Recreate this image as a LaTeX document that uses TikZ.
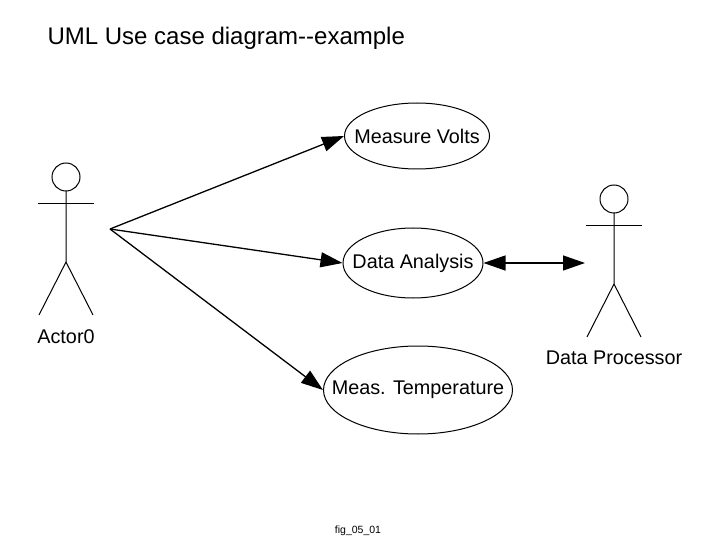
\documentclass[tikz,border=0pt]{standalone}
\usepackage{fontspec}
\setmainfont{Liberation Sans}
\usetikzlibrary{arrows.meta,shapes.geometric}
\begin{document}
\begin{tikzpicture}[x=1pt,y=-1pt,
	usecase/.style={draw,ellipse,line width=1pt,inner sep=0pt,font=\fontsize{19.8}{24}\selectfont},
	assoc/.style={line width=1.3pt,-{Triangle[length=22pt,width=15pt]}},
	actorline/.style={line width=1pt},
	label/.style={font=\fontsize{19.8}{24}\selectfont}]
	\useasboundingbox (0,0) rectangle (720,540);
	\node[anchor=west,font=\fontsize{24}{28}\selectfont] (title) at (44,38) {UML Use case diagram-{}-example};
	\node[usecase,minimum width=145pt,minimum height=66pt] (volts) at (417,136) {\makebox[0pt]{Measure Volts}};
	\node[usecase,minimum width=140pt,minimum height=70pt] (analysis) at (413,263) {\makebox[0pt]{Data Analysis}};
	\node[usecase,minimum width=189pt,minimum height=88pt] (temp) at (418,390) {\makebox[0pt]{Meas. Temperature}};
	\foreach \x/\y in {66/177, 614/199}{
		\draw[actorline] (\x,\y) circle (14pt);
		\draw[actorline] (\x-28,\y+27) -- (\x+28,\y+27);
		\draw[actorline] (\x,\y+14) -- (\x,\y+85) -- (\x-27,\y+138);
		\draw[actorline] (\x,\y+85) -- (\x+27,\y+138);
	}
	\node[label] (actor) at (66,337) {Actor0};
	\node[label] (proc) at (614,358) {Data Processor};
	\coordinate (src) at (110,229);
	\coordinate (procarm) at (585,263);
	\draw[assoc] (src) -- (volts.west);
	\draw[assoc] (src) -- (analysis.west);
	\draw[assoc] (src) -- (temp.west);
	\draw[assoc,{Triangle[length=22pt,width=15pt]}-{Triangle[length=22pt,width=15pt]}] (analysis.east) -- (procarm);
	\node[font=\fontsize{10.5}{12}\selectfont] (fig) at (358,531) {fig\_05\_01};
\end{tikzpicture}
\end{document}
